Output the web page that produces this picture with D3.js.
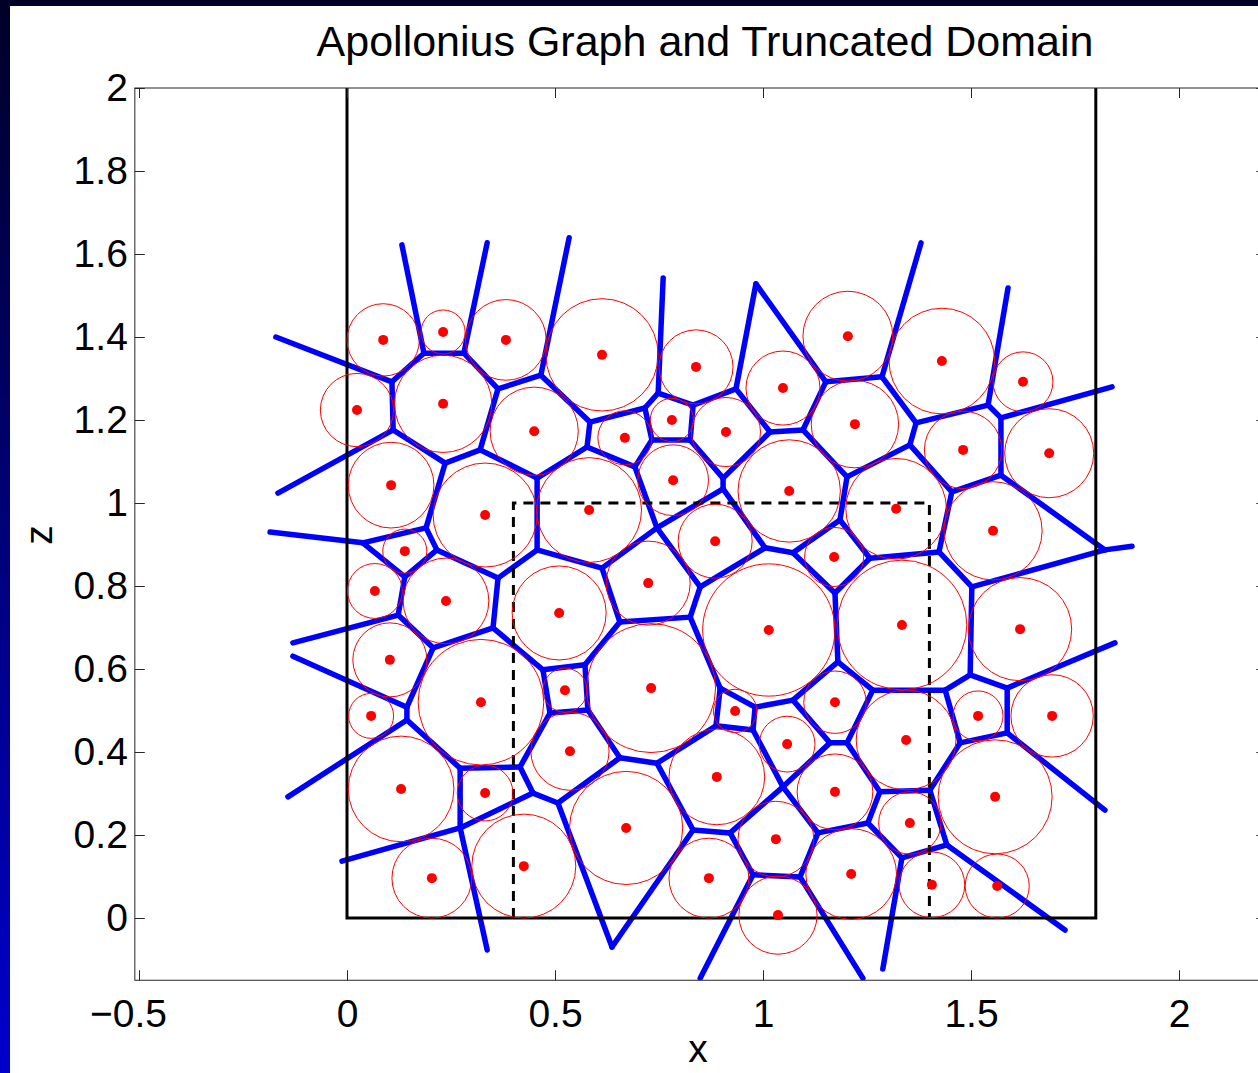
<!DOCTYPE html>
<html>
<head>
<meta charset="utf-8">
<script src="https://cdn.jsdelivr.net/npm/d3@7"></script>
<style>
  body { margin: 0; background: #fff; }
  svg { display: block; font-family: "Liberation Sans", Arial, sans-serif; }
</style>
</head>
<body>
<div id="chart"></div>
<script>
(function () {
// circles of the sample (centre x, centre z, radius)
const circleX = [0.087, 0.231, 0.382, 0.613, 0.839, 1.048, 1.204, 1.430, 1.625, 0.024,
  0.231, 0.450, 0.668, 0.781, 0.911, 1.221, 1.688, 1.481, 0.106, 0.332,
  0.582, 0.784, 1.063, 1.320, 1.553, 0.139, 0.067, 0.238, 0.510, 0.724,
  1.014, 1.334, 1.618, 0.103, 0.322, 0.524, 0.731, 0.933, 1.173, 0.058,
  1.517, 1.695, 0.536, 0.671, 0.889, 1.058, 1.031, 0.870, 1.036, 1.173,
  1.344, 1.353, 1.212, 1.558, 1.406, 1.563, 0.130, 0.332, 0.204, 0.425,
  0.885, 1.171];
const circleY = [1.393, 1.412, 1.393, 1.357, 1.328, 1.277, 1.402, 1.342, 1.292, 1.224,
  1.239, 1.173, 1.157, 1.200, 1.171, 1.190, 1.120, 1.128, 1.043, 0.971,
  0.983, 1.055, 1.029, 0.986, 0.933, 0.884, 0.788, 0.764, 0.735, 0.807,
  0.694, 0.706, 0.696, 0.622, 0.520, 0.549, 0.554, 0.499, 0.520, 0.487,
  0.487, 0.487, 0.402, 0.217, 0.340, 0.419, 0.190, 0.096, 0.007, 0.304,
  0.429, 0.229, 0.106, 0.292, 0.080, 0.077, 0.311, 0.301, 0.096, 0.125,
  0.908, 0.870];
const circleR = [0.087, 0.053, 0.097, 0.135, 0.089, 0.089, 0.108, 0.127, 0.072, 0.088,
  0.117, 0.106, 0.065, 0.052, 0.083, 0.105, 0.107, 0.093, 0.103, 0.125,
  0.126, 0.085, 0.123, 0.121, 0.118, 0.053, 0.066, 0.103, 0.113, 0.101,
  0.159, 0.156, 0.124, 0.089, 0.151, 0.053, 0.155, 0.052, 0.075, 0.054,
  0.060, 0.099, 0.094, 0.136, 0.115, 0.067, 0.091, 0.096, 0.094, 0.091,
  0.120, 0.075, 0.109, 0.137, 0.079, 0.077, 0.127, 0.067, 0.096, 0.125,
  0.089, 0.071];

// vertices of the Apollonius graph
const nodeNames = ["A","B","C","D","E","F","G","H","I","J","K","L","M","N","O","P","Q","R","S","T",
  "U","V","W","X","Y","Z1","Z2","AA","AB","AC","AD","AE","AF","AG","AH","AI","AJ",
  "BA","BB","BC","BD","BE","BF","BG","BH","BI","BJ",
  "CA","CB","CC","CD","CE","CF","CG","CH","CI","CJ","CK","CV",
  "DA","DB","DC","DD","DE","DF","DG","DH","DI","DJ",
  "EA","EB","EC","ED","EE","EF","EG","EH","EI","EJ","EK","EL","EM","EN","EO","EP","EQ","ES","ET","EU","EV","EW","EY","EZ",
  "rA","rB","rC","rE","rI","rM","rN","rO","rQ","rF","rBB","rBE","rBI","rBJ","rCC1","rCC2","rCK","rDJ","rDG","rDH","rEV","rEU"];
const nodeX = [0.108, 0.185, 0.281, 0.363, 0.466, 0.111, 0.236, 0.320, 0.748, 0.983, 0.935, 1.151, 1.286, 1.541, 1.572, 1.572, 1.822, 1.502, 1.368, 1.454,
  1.423, 1.353, 1.202, 1.096, 1.017, 0.904, 0.904, 0.584, 0.716, 0.577, 0.733, 0.825, 0.692, 0.832, 0.745, 0.457, 0.457,
  0.190, 0.038, 0.216, 0.139, 0.123, 0.207, 0.351, 0.363, 0.144, 0.144,
  0.272, 0.416, 0.272, 0.447, 0.507, 0.656, 0.745, 0.832, 0.921, 1.048, 0.976, 0.637,
  1.161, 1.202, 1.281, 1.132, 1.252, 1.401, 1.334, 1.442, 1.474, 1.089,
  1.072, 1.185, 1.173, 1.257, 1.180, 1.005, 0.849, 0.825, 0.613, 0.656, 0.572, 0.471, 0.579, 0.488, 0.897, 1.072, 1.264, 1.438, 1.498, 1.587, 1.587, 0.887, 0.976, 0.981,
  -0.171, 0.132, 0.337, 0.534, 0.760, 1.380, 1.589, 1.839, 1.887, -0.166, -0.185, -0.130, -0.130, -0.142, -0.012, 0.337, 0.849, 1.240, 1.288, 1.726, 1.822, 1.846];
const nodeY = [1.292, 1.361, 1.361, 1.275, 1.308, 1.176, 1.096, 1.128, 1.265, 1.528, 1.275, 1.292, 1.304, 1.236, 1.205, 1.067, 0.887, 0.798, 1.193, 1.027,
  0.882, 1.140, 1.063, 1.176, 1.171, 1.060, 1.034, 1.195, 1.229, 1.135, 1.152, 1.152, 1.087, 1.236, 0.940, 1.060, 0.887,
  0.940, 0.904, 0.887, 0.822, 0.730, 0.651, 0.699, 0.819, 0.508, 0.477,
  0.361, 0.364, 0.217, 0.301, 0.277, 0.386, 0.373, 0.212, 0.205, 0.316, 0.104, -0.070,
  0.422, 0.422, 0.304, 0.205, 0.229, 0.308, 0.145, 0.176, 0.422, 0.099,
  0.880, 0.959, 0.783, 0.867, 0.617, 0.892, 0.798, 0.725, 0.843, 0.713, 0.610, 0.598, 0.501, 0.494, 0.554, 0.525, 0.549, 0.549, 0.586, 0.554, 0.446, 0.463, 0.453, 0.508,
  1.400, 1.622, 1.627, 1.639, 1.542, 1.627, 1.518, 1.280, 0.896, 1.024, 0.930, 0.663, 0.631, 0.292, 0.137, -0.077, -0.145, -0.145, -0.123, -0.029, 0.260, 0.663];

// edges of the graph, as pairs of vertex names
const edgeList = [
  "rA-A","A-B","B-rB","B-C","C-rC","C-D","D-E","E-rE","A-F","F-rF","F-G","G-H","H-D","H-AI","G-BA",
  "E-AA","AA-AB","AA-AC","AB-I","I-rI","I-AG","AG-K","AG-AE","AB-AD","AD-AE","AD-AF","AF-AC","AC-AI",
  "AE-Z1","Z1-Y","Z1-Z2","Y-K","K-J","J-L","L-M","L-X","M-rM","M-S","S-N","N-rN","N-O","O-rO","O-P",
  "P-T","P-Q","Q-R","Q-rQ","S-V","V-W","V-T","T-U","U-R","U-ED","R-ET","X-Y","X-W","W-EB",
  "Z2-AH","Z2-EF","AF-AH","AH-EI","AH-EG","EF-EA","EF-EG","EG-EH","EI-AJ","EI-EJ","AJ-AI","AJ-BH",
  "EJ-EH","EJ-EK","EK-EL","EK-EM","EL-EN","EM-EN","EL-BG","EN-CB","EM-CF","EH-EO","EO-EZ","EO-EW",
  "EZ-EP","EZ-EY","EY-EW","EY-CJ","EW-CG",
  "EA-EB","EB-ED","ED-EC","EC-EA","EC-EE","EE-EP","EE-EQ","EP-DA","EQ-DB","EQ-ES","ES-ET","ES-DI",
  "ET-EU","EU-rEU","EU-EV","EV-DI","EV-rEV",
  "BA-BB","BA-BC","BB-rBB","BB-BD","BC-BD","BC-BH","BD-BE","BE-rBE","BE-BF","BF-BG","BF-BI","BG-BH",
  "BI-rBI","BI-BJ","BJ-rBJ","BJ-CA","CA-CB","CA-CC","CB-CD","CC-rCC1","CC-rCC2","CC-CD","CD-CE",
  "CE-CF","CE-CV","CF-CG","CG-CH","CH-CV","CH-CI","CI-CJ","CI-CK","CK-rCK","CK-DJ","CJ-DA","CJ-DD",
  "DA-DB","DB-DC","DC-DE","DC-DF","DD-DE","DD-DJ","DJ-rDJ","DE-DG","DG-DH","DG-rDG","DF-DH","DF-DI","DH-rDH"
];

// domain boundary and truncated domain
const domainX = [0, 0, 1.8, 1.8];
const domainY = [2, 0, 0, 2];
const truncX = [0.4, 0.4, 1.4, 1.4];
const truncY = [0, 1, 1, 0];

const xTicks = [-0.5, 0, 0.5, 1, 1.5, 2];
const yTicks = [0, 0.2, 0.4, 0.6, 0.8, 1, 1.2, 1.4, 1.6, 1.8, 2];
const xLimits = [-0.51, 2.21];
const yLimits = [-0.15, 2];

const W = 1258, H = 1073;
const svg = d3.select("#chart").append("svg").attr("width", W).attr("height", H);

// slide background strips
const defs = svg.append("defs");
const grad = defs.append("linearGradient").attr("id", "sideGrad")
  .attr("x1", 0).attr("y1", 0).attr("x2", 0).attr("y2", 1);
grad.append("stop").attr("offset", "0%").attr("stop-color", "#000028");
grad.append("stop").attr("offset", "100%").attr("stop-color", "#0000cc");
svg.append("rect").attr("width", W).attr("height", H).attr("fill", "#fff");
svg.append("rect").attr("x", 0).attr("y", 0).attr("width", 10).attr("height", H).attr("fill", "url(#sideGrad)");
svg.append("rect").attr("x", 0).attr("y", 0).attr("width", W).attr("height", 6).attr("fill", "#000028");

const x = d3.scaleLinear().domain([-0.5, 2]).range([139, 1179]);
const y = d3.scaleLinear().domain([0, 2]).range([918, 88]);

const pLeft = x(xLimits[0]), pRight = x(xLimits[1]);
const pTop = y(yLimits[1]), pBottom = y(yLimits[0]);

defs.append("clipPath").attr("id", "plotClip")
  .append("rect").attr("x", pLeft).attr("y", pTop).attr("width", pRight - pLeft).attr("height", pBottom - pTop);

const plot = svg.append("g").attr("clip-path", "url(#plotClip)");

// Apollonius graph edges
const nodeIndex = new Map(nodeNames.map((n, i) => [n, i]));
const edges = edgeList.map(e => e.split("-").map(n => nodeIndex.get(n)));
plot.selectAll("line.edge")
  .data(edges)
  .enter()
  .append("line")
  .attr("class", "edge")
  .attr("x1", d => x(nodeX[d[0]]))
  .attr("y1", d => y(nodeY[d[0]]))
  .attr("x2", d => x(nodeX[d[1]]))
  .attr("y2", d => y(nodeY[d[1]]))
  .attr("stroke", "#0000ff")
  .attr("stroke-width", 5.5)
  .attr("stroke-linecap", "round");

const line = d3.line().x(d => x(d[0])).y(d => y(d[1]));

plot.append("path")
  .datum(domainX.map((v, i) => [v, domainY[i]]))
  .attr("d", line)
  .attr("fill", "none")
  .attr("stroke", "#000")
  .attr("stroke-width", 3);

plot.append("path")
  .datum(truncX.map((v, i) => [v, truncY[i]]))
  .attr("d", line)
  .attr("fill", "none")
  .attr("stroke", "#000")
  .attr("stroke-width", 3)
  .attr("stroke-dasharray", "10,7");

// circles and centres
const circles = circleX.map((v, i) => ({ cx: v, cy: circleY[i], r: circleR[i] }));
plot.selectAll("circle.disc")
  .data(circles)
  .enter()
  .append("circle")
  .attr("class", "disc")
  .attr("cx", d => x(d.cx))
  .attr("cy", d => y(d.cy))
  .attr("r", d => x(d.r) - x(0))
  .attr("fill", "none")
  .attr("stroke", "#ff0000")
  .attr("stroke-width", 1);

plot.selectAll("circle.centre")
  .data(circles)
  .enter()
  .append("circle")
  .attr("class", "centre")
  .attr("cx", d => x(d.cx))
  .attr("cy", d => y(d.cy))
  .attr("r", 5)
  .attr("fill", "#ff0000");

// axes box and ticks
const fmt = d => d < 0 ? "\u2212" + Math.abs(d) : String(+d.toFixed(1));
const axisColor = "#262626";

svg.append("rect")
  .attr("x", pLeft).attr("y", pTop)
  .attr("width", pRight - pLeft).attr("height", pBottom - pTop)
  .attr("fill", "none").attr("stroke", axisColor).attr("stroke-width", 1);

const xAxis = svg.append("g")
  .attr("transform", `translate(0,${pBottom})`)
  .call(d3.axisBottom(x).tickValues(xTicks).tickFormat(fmt).tickSize(-10).tickPadding(19));
const xAxisTop = svg.append("g")
  .attr("transform", `translate(0,${pTop})`)
  .call(d3.axisTop(x).tickValues(xTicks).tickFormat("").tickSize(-10));
const yAxis = svg.append("g")
  .attr("transform", `translate(${pLeft},0)`)
  .call(d3.axisLeft(y).tickValues(yTicks).tickFormat(fmt).tickSize(-10).tickPadding(7));
const yAxisRight = svg.append("g")
  .attr("transform", `translate(${pRight},0)`)
  .call(d3.axisRight(y).tickValues(yTicks).tickFormat("").tickSize(-10));

[xAxis, xAxisTop, yAxis, yAxisRight].forEach(g => {
  g.select(".domain").remove();
  g.selectAll(".tick line").attr("stroke", axisColor);
  g.selectAll(".tick text")
    .attr("fill", "#000")
    .style("font-family", "'Liberation Sans', Arial, sans-serif")
    .style("font-size", "39px");
});

// negative labels sit a little left of their tick, as in the original
xAxis.selectAll(".tick text").filter(d => d < 0).attr("dx", "-11");

svg.append("text")
  .attr("x", 705).attr("y", 56)
  .attr("text-anchor", "middle")
  .style("font-size", "43px")
  .text("Apollonius Graph and Truncated Domain");

svg.append("text")
  .attr("x", 698).attr("y", 1062)
  .attr("text-anchor", "middle")
  .style("font-size", "39px")
  .text("x");

svg.append("text")
  .attr("transform", "translate(52,535) rotate(-90)")
  .attr("text-anchor", "middle")
  .style("font-size", "39px")
  .text("z");
})();
</script>
</body>
</html>
